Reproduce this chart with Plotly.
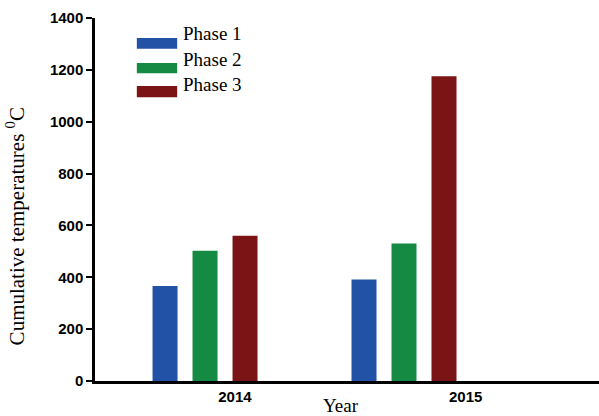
import plotly.graph_objects as go

years = ['2014', '2015']
phases = ['Phase 1', 'Phase 2', 'Phase 3']
phase1 = [366, 391]
phase2 = [502, 530]
phase3 = [560, 1175]
colors = ['#2152a6', '#148a43', '#7b1414']

pos = list(range(len(years)))
label_shift = [0.15, 0.31]  # tick labels sit right of the bar groups in the source

fig = go.Figure()
for name, vals, c in zip(phases, [phase1, phase2, phase3], colors):
    fig.add_trace(go.Bar(x=pos, y=vals, name=name, marker_color=c,
                         marker_line_width=0, showlegend=False))

serif = dict(family='Liberation Serif', size=19, color='black')

# custom legend with wide swatches
sw_y = [(0.915, 0.945), (0.848, 0.876), (0.782, 0.813)]
txt_y = [0.956, 0.886, 0.817]
for name, c, (y0, y1), ty in zip(phases, colors, sw_y, txt_y):
    fig.add_shape(type='rect', xref='paper', yref='paper',
                  x0=0.083, x1=0.163, y0=y0, y1=y1, fillcolor=c, line_width=0)
    fig.add_annotation(text=name, xref='paper', yref='paper', x=0.171, y=ty,
                       xanchor='left', yanchor='middle', showarrow=False, font=serif)

fig.add_annotation(text='Year', xref='paper', yref='paper', x=(341 - 95) / 504, y=-0.068,
                   xanchor='center', yanchor='middle', showarrow=False, font=serif)
fig.add_annotation(text='Cumulative temperatures <sup>0</sup>C', xref='paper', yref='paper',
                   x=-0.156, y=0.427, textangle=-90, xanchor='center', yanchor='middle',
                   showarrow=False, font=dict(family='Liberation Serif', size=21, color='black'))

fig.update_layout(
    width=599, height=416,
    margin=dict(l=95, r=0, t=18, b=35),
    plot_bgcolor='white', paper_bgcolor='white',
    barmode='group', bargap=0.397, bargroupgap=0.375,
    xaxis=dict(range=[-0.553, 1.98], showline=True, linecolor='black', automargin=False,
               linewidth=2.5, ticks='', showgrid=False, zeroline=False,
               tickvals=[p + s for p, s in zip(pos, label_shift)], ticktext=years,
               tickfont=dict(family='Arial', size=15, color='black', weight='bold')),
    yaxis=dict(range=[0, 1400], dtick=200, showline=True, linecolor='black', linewidth=2.5,
               ticks='outside', ticklen=6, tickwidth=2, tickcolor='black', showgrid=False,
               zeroline=False, automargin=False,
               tickfont=dict(family='Arial', size=15, color='black', weight='bold')),
)

# drop the page's default body margin so the figure fills the window
fig.write_html('out.html', config={'displayModeBar': False},
               post_script="document.body.style.margin='0';")
